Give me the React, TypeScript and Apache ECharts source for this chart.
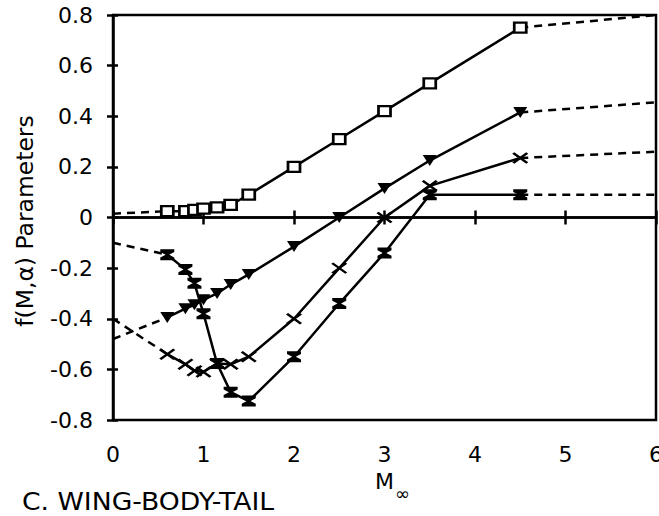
import React, { useEffect, useRef } from 'react';
import * as echarts from 'echarts';

// Mach numbers of the measured points
const mach = [0.6, 0.8, 0.9, 1.0, 1.15, 1.3, 1.5, 2.0, 2.5, 3.0, 3.5, 4.5];
// Series values (f(M, alpha) parameters)
const squareVals = [0.025, 0.025, 0.03, 0.035, 0.04, 0.05, 0.09, 0.2, 0.31, 0.42, 0.53, 0.75];
const triangleVals = [-0.395, -0.36, -0.345, -0.325, -0.3, -0.265, -0.225, -0.115, 0.0, 0.115, 0.225, 0.415];
const crossVals = [-0.54, -0.58, -0.605, -0.61, -0.577, -0.58, -0.55, -0.4, -0.2, 0.0, 0.125, 0.235];
const hourglassVals = [-0.147, -0.205, -0.26, -0.38, -0.577, -0.69, -0.725, -0.55, -0.34, -0.14, 0.09, 0.09];

// Dashed extrapolations (left: M 0 -> 0.6, right: M 4.5 -> 6)
const dashLeftMach = [0, 0.6];
const dashRightMach = [4.5, 6];
const squareLeft = [0.015, 0.025];
const squareRight = [0.75, 0.8];
const triangleLeft = [-0.48, -0.395];
const triangleRight = [0.415, 0.455];
const crossLeft = [-0.4, -0.54];
const crossRight = [0.235, 0.26];
const hourglassLeft = [-0.1, -0.147];
const hourglassRight = [0.09, 0.09];

const FONT = '"DejaVu Sans", "Liberation Sans", Arial, sans-serif';

const pair = (xs: number[], ys: number[]) => xs.map((x, i) => [x, ys[i]]);

export default function App() {
  const ref = useRef<HTMLDivElement>(null);

  useEffect(() => {
    document.body.style.margin = '0';
    if (!ref.current) return;
    const chart = echarts.init(ref.current, undefined, { renderer: 'svg' });

    const solid = (name: string, ys: number[], marker: any) => ({
      name,
      type: 'line',
      data: pair(mach, ys),
      lineStyle: { color: '#000', width: 2.5 },
      ...marker,
      z: 3,
    });
    const dashed = (xs: number[], ys: number[]) => ({
      type: 'line',
      data: pair(xs, ys),
      symbol: 'none',
      lineStyle: { color: '#000', width: 2.5, type: [8, 6] },
      z: 2,
    });

    const option: any = {
      animation: false,
      backgroundColor: '#fff',
      grid: {
        left: 113,
        right: 3,
        top: 15,
        bottom: 96,
        show: true,
        borderColor: '#000',
        borderWidth: 2.5,
        containLabel: false,
        outerBoundsMode: 'none',
      },
      xAxis: [
        {
          type: 'value',
          min: 0,
          max: 6,
          interval: 1,
          axisLine: { show: true, lineStyle: { color: '#000', width: 2.5 } },
          axisTick: { show: true, inside: false, length: 7, lineStyle: { color: '#000', width: 2.5 } },
          splitLine: { show: false },
          axisLabel: { color: '#000', fontSize: 22, fontFamily: FONT, margin: 23, hideOverlap: false },
        },
        {
          type: 'value',
          min: 0,
          max: 6,
          interval: 1,
          position: 'bottom',
          axisLine: { show: false },
          axisTick: { show: true, inside: true, length: 7, lineStyle: { color: '#000', width: 2.5 } },
          splitLine: { show: false },
          axisLabel: { show: false },
        },
      ],
      yAxis: [
        {
          type: 'value',
          min: -0.8,
          max: 0.8,
          interval: 0.2,
          axisLine: { show: true, lineStyle: { color: '#000', width: 2.5 } },
          axisTick: { show: true, inside: false, length: 6, lineStyle: { color: '#000', width: 2.5 } },
          splitLine: { show: false },
          axisLabel: {
            color: '#000',
            fontSize: 22,
            fontFamily: FONT,
            margin: 20,
            formatter: (v: number) => (Math.abs(v) < 1e-9 ? '0' : v.toFixed(1)),
          },
        },
        {
          type: 'value',
          min: -0.8,
          max: 0.8,
          interval: 0.2,
          position: 'left',
          axisLine: { show: false },
          axisTick: { show: true, inside: true, length: 5, lineStyle: { color: '#000', width: 2.5 } },
          splitLine: { show: false },
          axisLabel: { show: false },
        },
      ],
      series: [
        {
          ...solid('square', squareVals, {
            symbol: 'rect',
            symbolSize: [12, 10],
            itemStyle: { color: '#fff', borderColor: '#000', borderWidth: 2.5 },
          }),
          markLine: {
            silent: true,
            symbol: 'none',
            label: { show: false },
            lineStyle: { color: '#000', width: 2.5, type: 'solid' },
            data: [{ yAxis: 0 }],
          },
        },
        solid('triangle', triangleVals, {
          symbol: 'triangle',
          symbolRotate: 180,
          symbolSize: [14, 11],
          itemStyle: { color: '#000' },
        }),
        solid('cross', crossVals, {
          symbol: 'path://M0,0L12,9M12,0L0,9',
          symbolSize: [14, 10],
          itemStyle: { color: 'none', borderColor: '#000', borderWidth: 2.5 },
        }),
        solid('hourglass', hourglassVals, {
          symbol: 'path://M0,0H12V2.5L7.5,5L12,7.5V10H0V7.5L4.5,5L0,2.5Z',
          symbolSize: [14, 11],
          itemStyle: { color: '#000' },
        }),
        dashed(dashLeftMach, squareLeft),
        dashed(dashRightMach, squareRight),
        dashed(dashLeftMach, triangleLeft),
        dashed(dashRightMach, triangleRight),
        dashed(dashLeftMach, crossLeft),
        dashed(dashRightMach, crossRight),
        dashed(dashLeftMach, hourglassLeft),
        dashed(dashRightMach, hourglassRight),
      ],
      graphic: [
        {
          type: 'text',
          x: 25,
          y: 221,
          rotation: Math.PI / 2,
          scaleX: 1.02,
          style: {
            text: 'f(M,α) Parameters',
            fontSize: 23,
            fontFamily: FONT,
            fill: '#000',
            align: 'center',
            verticalAlign: 'middle',
          },
        },
        {
          type: 'text',
          x: 375,
          y: 481,
          style: {
            text: 'M',
            fontSize: 22,
            fontFamily: FONT,
            fill: '#000',
            align: 'left',
            verticalAlign: 'middle',
          },
        },
        {
          type: 'text',
          x: 395,
          y: 493,
          style: {
            text: '∞',
            fontSize: 18,
            fontFamily: FONT,
            fill: '#000',
            align: 'left',
            verticalAlign: 'middle',
          },
        },
        {
          type: 'text',
          x: 22,
          y: 501,
          scaleX: 1.11,
          style: {
            text: 'C. WING-BODY-TAIL',
            fontSize: 24,
            fontFamily: FONT,
            fill: '#000',
            align: 'left',
            verticalAlign: 'middle',
          },
        },
      ],
    };

    chart.setOption(option);
    return () => chart.dispose();
  }, []);

  return <div ref={ref} style={{ width: 659, height: 516 }} />;
}
